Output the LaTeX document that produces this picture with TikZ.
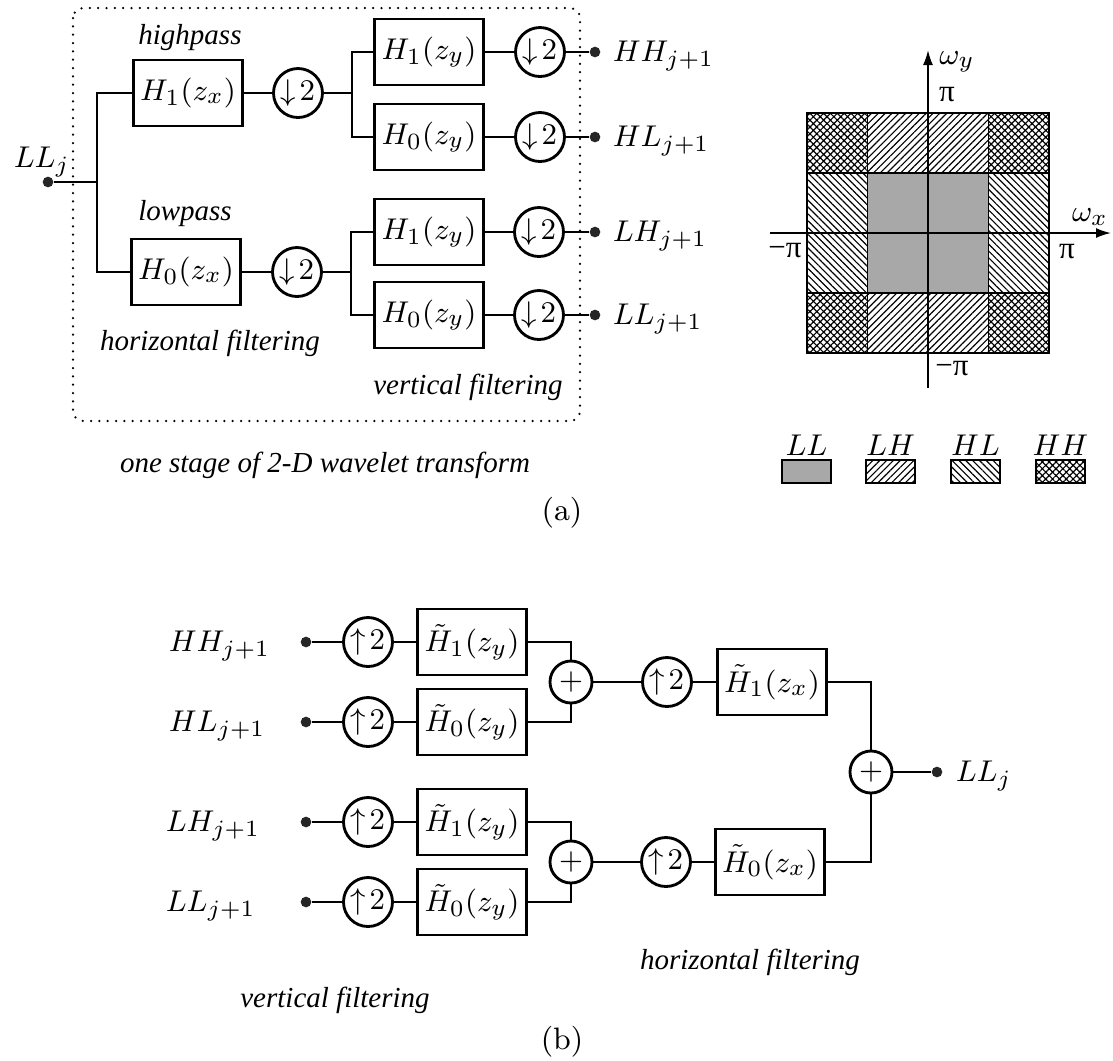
\documentclass[tikz,border=0pt]{standalone}
\usepackage{fontspec}
\newfontfamily\labelfont{Liberation Serif}
\usetikzlibrary{arrows.meta,patterns.meta}

\begin{document}
\begin{tikzpicture}[x=0.3pt,y=-0.3pt,
  every node/.style={font=\fontsize{9.3}{11}\selectfont},
  wire/.style={line width=0.85pt},
  filt/.style={draw,line width=0.85pt,minimum width=32.7pt,minimum height=19.8pt,inner sep=0pt},
  rate/.style={draw,circle,line width=0.85pt,minimum size=14.7pt,inner sep=0pt},
  adder/.style={draw,circle,line width=0.85pt,minimum size=12.6pt,inner sep=0pt},
  term/.style={circle,fill=black!85,minimum size=3.2pt,inner sep=0pt},
  note/.style={font=\labelfont\itshape\fontsize{8.7}{10}\selectfont},
  pi label/.style={font=\labelfont\fontsize{9.3}{11}\selectfont},
  grid line/.style={line width=0.55pt},
  llfill/.style={fill=black!34},
  lhfill/.style={pattern={Lines[angle=45,distance=1.45pt,line width=0.35pt]}},
  hlfill/.style={pattern={Lines[angle=-45,distance=1.45pt,line width=0.35pt]}},
  hhfill/.style={pattern={Hatch[angle=45,distance=1.45pt,line width=0.35pt]}},
]
\useasboundingbox (0,0) rectangle (1113,1060);

% ---------------- (a) analysis stage ----------------
\draw[line width=0.75pt,dash pattern=on 0pt off 2.5pt,line cap=round,rounded corners=3pt]
  (73,8) rectangle (580,421);

\node[anchor=base west] (LLin) at (2,167) {$LL_j$};
\node[term] (in) at (48,182) {};
\coordinate (ja) at (97,182);

\node[note] (hp) at (190,38) {highpass};
\node[note] (lp) at (185,214) {lowpass};
\node[filt] (H1x) at (188,93) {$H_1(z_x)$};
\node[filt] (H0x) at (186,272) {$H_0(z_x)$};
\node[rate] (D1) at (298,93) {$\downarrow\!2$};
\node[rate] (D2) at (297,272) {$\downarrow\!2$};
\coordinate (jb) at (352,93);
\coordinate (jc) at (351,272);

\node[filt] (H1ya) at (429,52)  {$H_1(z_y)$};
\node[filt] (H0ya) at (429,137) {$H_0(z_y)$};
\node[filt] (H1yb) at (429,232) {$H_1(z_y)$};
\node[filt] (H0yb) at (429,315) {$H_0(z_y)$};
\node[rate] (Da) at (540,52)  {$\downarrow\!2$};
\node[rate] (Db) at (540,137) {$\downarrow\!2$};
\node[rate] (Dc) at (539,232) {$\downarrow\!2$};
\node[rate] (Dd) at (539,315) {$\downarrow\!2$};
\node[term] (oHH) at (595,52)  {};
\node[term] (oHL) at (595,137) {};
\node[term] (oLH) at (595,232) {};
\node[term] (oLL) at (595,315) {};
\node[anchor=base west] (tHH) at (601,61)  {$HH_{j+1}$};
\node[anchor=base west] (tHL) at (601,146) {$HL_{j+1}$};
\node[anchor=base west] (tLH) at (601,241) {$LH_{j+1}$};
\node[anchor=base west] (tLL) at (601,324) {$LL_{j+1}$};

\node[note] (hf) at (210,343) {horizontal filtering};
\node[note] (vf) at (468,387) {vertical filtering};
\node[note] (stage) at (325,465) {one stage of 2-D wavelet transform};
\node (capa) at (562,513) {(a)};

\draw[wire] (in) -- (ja);
\draw[wire] (H1x.west) -| (ja) |- (H0x.west);
\draw[wire] (H1x) -- (D1);
\draw[wire] (H0x) -- (D2);
\draw[wire] (D1.east) -- (jb);
\draw[wire] (D2.east) -- (jc);
\draw[wire] (H1ya.west) -| (jb) |- (H0ya.west);
\draw[wire] (H1yb.west) -| (jc) |- (H0yb.west);
\draw[wire] (H1ya) -- (Da) -- (oHH);
\draw[wire] (H0ya) -- (Db) -- (oHL);
\draw[wire] (H1yb) -- (Dc) -- (oLH);
\draw[wire] (H0yb) -- (Dd) -- (oLL);

% ---------------- frequency plane ----------------
\fill[hhfill] (807,113) rectangle (867.5,173);
\fill[hhfill] (988.5,113) rectangle (1049,173);
\fill[hhfill] (807,293) rectangle (867.5,353);
\fill[hhfill] (988.5,293) rectangle (1049,353);
\fill[lhfill] (867.5,113) rectangle (988.5,173);
\fill[lhfill] (867.5,293) rectangle (988.5,353);
\fill[hlfill] (807,173) rectangle (867.5,293);
\fill[hlfill] (988.5,173) rectangle (1049,293);
\fill[llfill] (867.5,173) rectangle (988.5,293);
\draw[grid line] (807,113) rectangle (1049,353);
\draw[grid line] (867.5,113) -- (867.5,353) (988.5,113) -- (988.5,353)
                 (807,173) -- (1049,173) (807,293) -- (1049,293);
\draw[grid line,-{Latex[length=4.5pt,width=3pt]}] (928,388) -- (928,50);
\draw[grid line,-{Latex[length=4.5pt,width=3pt]}] (770,233) -- (1111,233);
\node (wy) at (957,62) {$\omega_y$};
\node (wx) at (1090,217) {$\omega_x$};
\node[pi label] (piT) at (947,95) {π};
\node[pi label] (piR) at (1067,252) {π};
\node[pi label] (piL) at (785,251) {−π};
\node[pi label] (piB) at (952,369) {−π};

% legend
\node (kLL) at (806.5,445) {$LL$};
\node (kLH) at (890.5,445) {$LH$};
\node (kHL) at (975.5,445) {$HL$};
\node (kHH) at (1060.5,445) {$HH$};
\draw[grid line,llfill] (782,460) rectangle (831,483);
\draw[grid line,lhfill] (866,460) rectangle (915,483);
\draw[grid line,hlfill] (951,460) rectangle (1000,483);
\draw[grid line,hhfill] (1036,460) rectangle (1085,483);

% ---------------- (b) synthesis stage ----------------
\node[anchor=base west] (sHH) at (157,651) {$HH_{j+1}$};
\node[anchor=base west] (sHL) at (157,731) {$HL_{j+1}$};
\node[anchor=base west] (sLH) at (154,831) {$LH_{j+1}$};
\node[anchor=base west] (sLL) at (154,911) {$LL_{j+1}$};
\node[term] (iHH) at (306,642) {};
\node[term] (iHL) at (306,722) {};
\node[term] (iLH) at (306,822) {};
\node[term] (iLL) at (306,902) {};
\node[rate] (Ua) at (368,642) {$\uparrow\!2$};
\node[rate] (Ub) at (368,722) {$\uparrow\!2$};
\node[rate] (Uc) at (368,822) {$\uparrow\!2$};
\node[rate] (Ud) at (368,902) {$\uparrow\!2$};
\node[filt] (Gya) at (472,642) {$\tilde H_1(z_y)$};
\node[filt] (Gyb) at (472,722) {$\tilde H_0(z_y)$};
\node[filt] (Gyc) at (472,822) {$\tilde H_1(z_y)$};
\node[filt] (Gyd) at (472,902) {$\tilde H_0(z_y)$};
\node[adder] (P1) at (571,682) {$+$};
\node[adder] (P2) at (571,862) {$+$};
\node[rate] (U5) at (667,682) {$\uparrow\!2$};
\node[rate] (U6) at (666,862) {$\uparrow\!2$};
\node[filt] (Gxa) at (772,682) {$\tilde H_1(z_x)$};
\node[filt] (Gxb) at (770,862) {$\tilde H_0(z_x)$};
\node[adder] (P3) at (871,772) {$+$};
\node[term] (out) at (937,772) {};
\node[anchor=base west] (tout) at (944,781) {$LL_j$};

\node[note] (hf2) at (750,962) {horizontal filtering};
\node[note] (vf2) at (335,1000) {vertical filtering};
\node (capb) at (562,1042) {(b)};

\draw[wire] (iHH) -- (Ua) -- (Gya);
\draw[wire] (iHL) -- (Ub) -- (Gyb);
\draw[wire] (iLH) -- (Uc) -- (Gyc);
\draw[wire] (iLL) -- (Ud) -- (Gyd);
\draw[wire] (Gya.east) -| (P1.north);
\draw[wire] (Gyb.east) -| (P1.south);
\draw[wire] (Gyc.east) -| (P2.north);
\draw[wire] (Gyd.east) -| (P2.south);
\draw[wire] (P1) -- (U5) -- (Gxa);
\draw[wire] (P2) -- (U6) -- (Gxb);
\draw[wire] (Gxa.east) -| (P3.north);
\draw[wire] (Gxb.east) -| (P3.south);
\draw[wire] (P3) -- (out);
\end{tikzpicture}
\end{document}
